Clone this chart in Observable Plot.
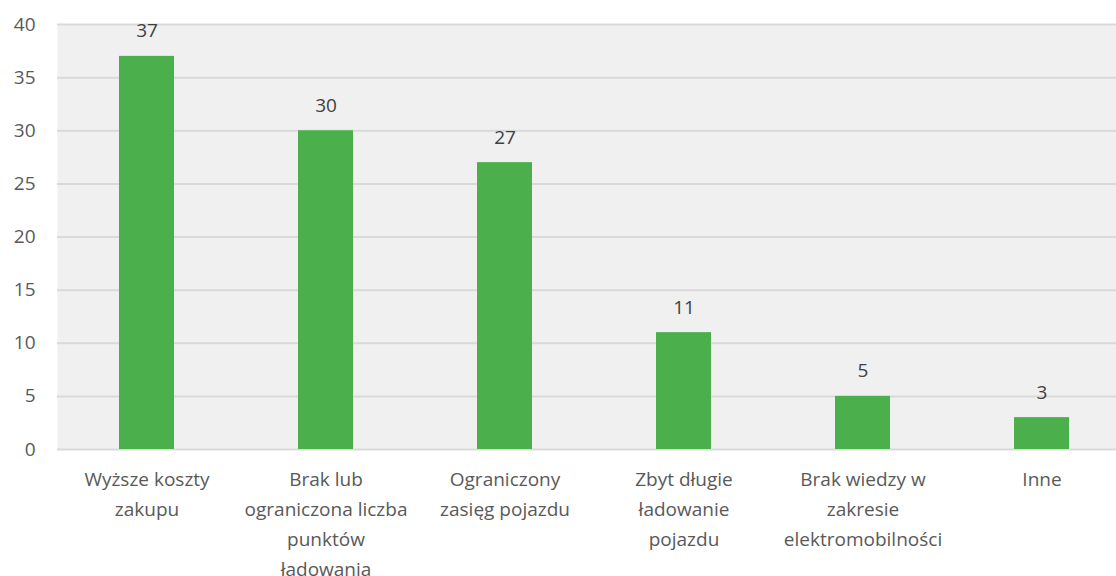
<!DOCTYPE html>
<html><head><meta charset="utf-8">
<script src="https://cdn.jsdelivr.net/npm/d3@7"></script>
<script src="https://cdn.jsdelivr.net/npm/@observablehq/plot@0.6"></script>
<style>body{margin:0;background:#fff;} svg{display:block;}</style>
</head><body><div id="chart"></div>
<script>
const categories = [
  "Wyższe koszty\nzakupu",
  "Brak lub\nograniczona liczba\npunktów\nładowania",
  "Ograniczony\nzasięg pojazdu",
  "Zbyt długie\nładowanie\npojazdu",
  "Brak wiedzy w\nzakresie\nelektromobilności",
  "Inne"
];
const values = [37, 30, 27, 11, 5, 3];
const yTicks = [0, 5, 10, 15, 20, 25, 30, 35, 40];
const data = categories.map((c, i) => ({category: c, value: values[i]}));

const chart = Plot.plot({
  width: 1116,
  height: 576,
  marginLeft: 57,
  marginRight: 0,
  marginTop: 24,
  marginBottom: 127,
  style: {fontFamily: "'Open Sans', 'Noto Sans', sans-serif", fontSize: "19px", color: "#595959", background: "#fff"},
  x: {domain: categories, range: [57, 1131], paddingInner: 0.69, paddingOuter: 0.345, align: 0.5, label: null},
  y: {domain: [0, 40], label: null},
  marks: [
    Plot.frame({fill: "#f0f0f0", stroke: null}),
    Plot.gridY(yTicks, {stroke: "#d9d9d9", strokeOpacity: 1, strokeWidth: 2}),
    Plot.barY(data, {x: "category", y: "value", fill: "#4bb04b"}),
    Plot.text(data, {x: "category", y: "value", text: d => String(d.value), dy: -25, fill: "#404040", fontSize: 19}),
    Plot.axisY({ticks: yTicks, tickSize: 0, tickPadding: 22, fontSize: 19, fill: "#595959", label: null}),
    Plot.axisX({tickSize: 0, tickPadding: 15, fontSize: 19, lineHeight: 1.58, fill: "#595959", label: null})
  ]
});
document.getElementById("chart").appendChild(chart);
</script></body></html>
